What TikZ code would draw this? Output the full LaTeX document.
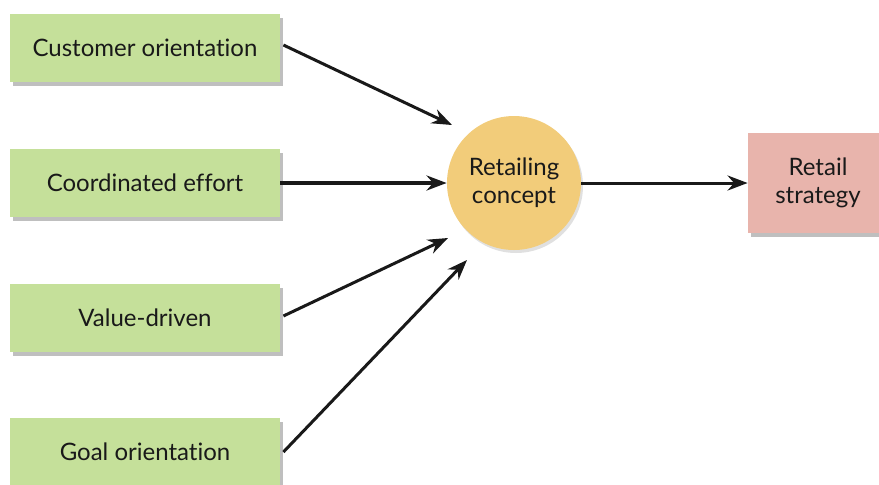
\documentclass[tikz,border=0pt]{standalone}
\usepackage{fontspec}
\setmainfont{Lato}[Ligatures=NoCommon]
\usetikzlibrary{arrows.meta,shadows}
\definecolor{boxgreen}{RGB}{197,224,154}
\definecolor{circorange}{RGB}{242,204,122}
\definecolor{boxpink}{RGB}{232,180,172}
\begin{document}
\begin{tikzpicture}[x=0.5pt, y=-0.5pt]
				\tikzstyle{every node}=[inner sep=1pt, align=center, font=\fontsize{12}{14}\selectfont, text=black!90]
				\tikzstyle{factor}=[fill=boxgreen, minimum width=135pt, minimum height=34pt, drop shadow={shadow xshift=1.5pt, shadow yshift=-2pt, opacity=0.25, fill=black}]
				\tikzstyle{link}=[-{Stealth[length=10pt, width=7.5pt]}, line width=1.5pt, black!90]
				\useasboundingbox (0, 0) rectangle (879, 484);
				\node[factor] (CO) at (145, 48) {Customer orientation};
				\node[factor] (CE) at (145, 183) {Coordinated effort};
				\node[factor] (VD) at (145, 318) {Value-driven};
				\node[factor] (GO) at (145, 452) {Goal orientation};
				\node[circle, fill=circorange, minimum size=67pt, drop shadow={shadow xshift=1pt, shadow yshift=-1.5pt, opacity=0.12, fill=black}] (RC) at (514, 183) {Retailing\\concept};
				\node[fill=boxpink, minimum width=70pt, minimum height=50pt, drop shadow={shadow xshift=1.5pt, shadow yshift=-2pt, opacity=0.25, fill=black}] (RS) at (818, 183) {Retail\\strategy};
				\coordinate (t1) at (452, 125);
				\coordinate (t3) at (448, 238);
				\coordinate (t4) at (467, 260);
				\draw [link] (CO.east) ++(3, -3) -- (t1);
				\draw [link, line width=2.3pt] (CE) -- (RC);
				\draw [link] (VD.east) ++(3, -2) -- (t3);
				\draw [link] (GO.east) ++(3, 0) -- (t4);
				\draw [link] (RC) -- (RS);
		\end{tikzpicture}
\end{document}
